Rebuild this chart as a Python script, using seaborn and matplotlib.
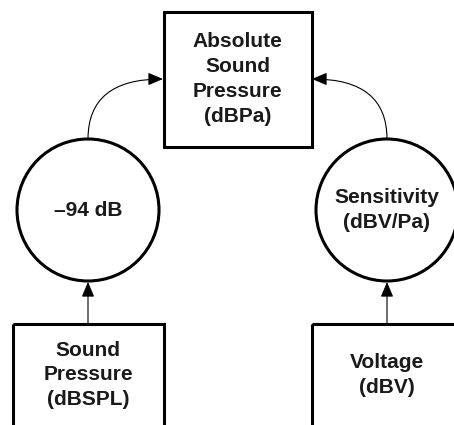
import matplotlib
matplotlib.use("Agg")
import matplotlib.pyplot as plt
from matplotlib.patches import Rectangle, Circle, FancyArrowPatch
import seaborn as sns

sns.set_style("white")
plt.rcParams['font.family'] = ['Liberation Sans', 'DejaVu Sans']

# Node labels
top_label = "Absolute\nSound\nPressure\n(dBPa)"
circle_labels = ["\u201394 dB", "Sensitivity\n(dBV/Pa)"]
bottom_labels = ["Sound\nPressure\n(dBSPL)", "Voltage\n(dBV)"]

W, H = 454, 425
fig = plt.figure(figsize=(W / 100, H / 100), dpi=100)
ax = fig.add_axes([0, 0, 1, 1])
ax.set_xlim(0, W)
ax.set_ylim(H, 0)
ax.axis("off")

lw_box = 2.2
lw_arr = 0.8
tc = "#1a1a1a"
fs = 15
ls = 1.38

# top box
ax.add_patch(Rectangle((163.5, 11.5), 148, 135, fill=False, lw=lw_box, ec="black", joinstyle="miter"))
ax.text(237.5, 79, top_label, ha="center", va="center", fontsize=fs, fontweight="bold",
        color=tc, linespacing=ls)

cx = [88, 387]
cy = 210
r = 71
for x, lab in zip(cx, circle_labels):
    ax.add_patch(Circle((x, cy), r, fill=False, lw=lw_box, ec="black"))
    ax.text(x, cy, lab, ha="center", va="center", fontsize=fs, fontweight="bold",
            color=tc, linespacing=ls)

# bottom boxes
box_x = [12.5, 311.5]
for bx, x, lab in zip(box_x, cx, bottom_labels):
    ax.add_patch(Rectangle((bx, 323.5), 151, 130, fill=False, lw=lw_box, ec="black", joinstyle="miter"))
    ax.text(x, 375, lab, ha="center", va="center", fontsize=fs, fontweight="bold",
            color=tc, linespacing=ls)
    # vertical arrow
    ax.add_patch(FancyArrowPatch((x, 323), (x, cy + r + 1),
                                 arrowstyle="-|>,head_length=1.3,head_width=0.55",
                                 mutation_scale=7, lw=lw_arr, color="black",
                                 shrinkA=0, shrinkB=0))

# curved arrows
ax.add_patch(FancyArrowPatch((cx[0], cy - r), (163, 79),
                             connectionstyle="angle3,angleA=90,angleB=0",
                             arrowstyle="-|>,head_length=1.3,head_width=0.55",
                             mutation_scale=7, lw=lw_arr, color="black",
                             shrinkA=0, shrinkB=0))
ax.add_patch(FancyArrowPatch((cx[1], cy - r), (312, 79),
                             connectionstyle="angle3,angleA=90,angleB=0",
                             arrowstyle="-|>,head_length=1.3,head_width=0.55",
                             mutation_scale=7, lw=lw_arr, color="black",
                             shrinkA=0, shrinkB=0))

fig.savefig("out.png", dpi=100, facecolor="white")
